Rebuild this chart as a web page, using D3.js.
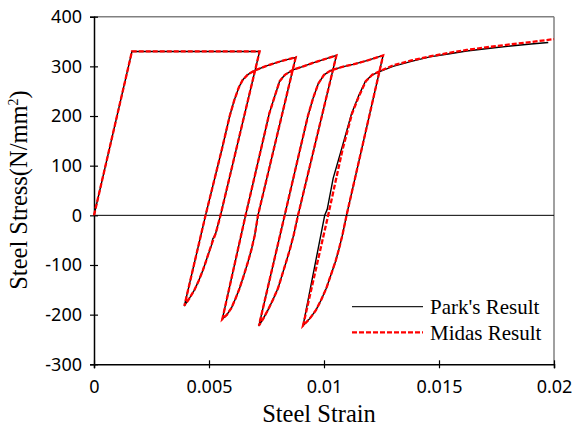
<!DOCTYPE html>
<html>
<head>
<meta charset="utf-8">
<script src="https://cdn.jsdelivr.net/npm/d3@7"></script>
<style>
  body { margin: 0; background: #fff; }
  .tick text { font-family: "Noto Sans", sans-serif; font-size: 18px; fill: #000; }
</style>
</head>
<body>
<div id="chart"></div>
<script>
// Park's result (black solid) - strain / stress pairs
const parkStrain = [0, 0.00165, 0.0072, 0.0055, 0.00528, 0.00516, 0.00511, 0.0049, 0.00474, 0.00455, 0.00437, 0.00415, 0.00393,
  0.00485, 0.00555, 0.0059, 0.0061, 0.0063, 0.00647, 0.0067, 0.007, 0.0075, 0.0081, 0.00877,
  0.00713, 0.00699, 0.00685, 0.0067, 0.00652, 0.00633, 0.00615, 0.00597, 0.00578, 0.00558,
  0.00659, 0.00725, 0.00762, 0.00786, 0.00807, 0.0083, 0.00865, 0.0091, 0.00952, 0.01, 0.01054,
  0.00887, 0.00868, 0.00852, 0.00836, 0.00818, 0.008, 0.00778, 0.00756, 0.00736, 0.00717,
  0.00829, 0.00895, 0.0093, 0.00952, 0.00975, 0.01, 0.0103, 0.0108, 0.01127, 0.0119, 0.01257,
  0.01098, 0.0108, 0.01065, 0.0105, 0.0103, 0.0101, 0.00988, 0.00965, 0.00938, 0.00909,
  0.01003, 0.01014, 0.0104, 0.01075, 0.0112, 0.0115, 0.0118, 0.0121, 0.0125, 0.013, 0.0138, 0.0146, 0.0154, 0.0162, 0.0175, 0.019, 0.01975];
const parkStress = [0, 330, 330, 0, -38, -48, -60, -88, -110, -132, -150, -167, -182,
  0, 131, 200, 232, 258, 273, 284, 292, 301, 310, 318,
  0, -40, -68, -93, -120, -147, -168, -187, -200, -209,
  0, 131, 205, 240, 270, 283, 293, 300, 307, 314, 322,
  0, -40, -68, -93, -120, -147, -170, -191, -208, -222,
  0, 131, 200, 235, 265, 283, 292, 299, 304, 312, 322,
  0, -40, -68, -93, -120, -147, -170, -191, -208, -222,
  0, 12, 75, 131, 205, 240, 270, 283, 291, 300, 310, 319, 325, 331, 338, 345, 348];

// Midas result (red dashed)
const midasStrain = [0, 0.00165, 0.0072, 0.0055, 0.0053, 0.0051, 0.0049, 0.00474, 0.00455, 0.00437, 0.00415, 0.00393,
  0.00485, 0.00555, 0.0059, 0.0061, 0.0063, 0.00647, 0.0067, 0.007, 0.0075, 0.0081, 0.00877,
  0.00713, 0.00699, 0.00685, 0.0067, 0.00652, 0.00633, 0.00615, 0.00597, 0.00578, 0.00558,
  0.00659, 0.00725, 0.00762, 0.00786, 0.00807, 0.0083, 0.00865, 0.0091, 0.00952, 0.01, 0.01054,
  0.00887, 0.00868, 0.00852, 0.00836, 0.00818, 0.008, 0.00778, 0.00756, 0.00736, 0.00717,
  0.00829, 0.00895, 0.0093, 0.00952, 0.00975, 0.01, 0.0103, 0.0108, 0.01127, 0.0119, 0.01257,
  0.01098, 0.0108, 0.01065, 0.0105, 0.0103, 0.0101, 0.00988, 0.00965, 0.00938, 0.00909,
  0.01018, 0.0108, 0.01122, 0.01152, 0.01182, 0.0121, 0.0125, 0.013, 0.0138, 0.0146, 0.0154, 0.0162, 0.0175, 0.019, 0.02];
const midasStress = [0, 330, 330, 0, -35, -60, -88, -110, -132, -150, -167, -182,
  0, 131, 200, 232, 258, 273, 284, 292, 301, 310, 318,
  0, -40, -68, -93, -120, -147, -168, -187, -200, -209,
  0, 131, 205, 240, 270, 283, 293, 300, 307, 314, 322,
  0, -40, -68, -93, -120, -147, -170, -191, -208, -222,
  0, 131, 200, 235, 265, 283, 292, 299, 304, 312, 322,
  0, -40, -68, -93, -120, -147, -170, -191, -208, -222,
  0, 131, 205, 240, 270, 283, 292, 302, 312, 320, 327, 333, 341, 349, 355];

const xTicks = [0, 0.005, 0.01, 0.015, 0.02];
const yTicks = [-300, -200, -100, 0, 100, 200, 300, 400];
const seriesNames = ["Park's Result", "Midas Result"];

const serif = "'Liberation Serif', 'DejaVu Serif', 'Times New Roman', serif";

const W = 576, H = 426;
const margin = { top: 16.7, right: 22, bottom: 61.7, left: 94 };
const width = W - margin.left - margin.right;
const height = H - margin.top - margin.bottom;

const svg = d3.select("#chart").append("svg")
    .attr("width", W)
    .attr("height", H);

const g = svg.append("g")
    .attr("transform", `translate(${margin.left}, ${margin.top})`);

const x = d3.scaleLinear().domain([0, 0.02]).range([0, width]);
const y = d3.scaleLinear().domain([-300, 400]).range([height, 0]);

// frame: top and right in grey
g.append("line").attr("x1", 0).attr("x2", width).attr("y1", 0).attr("y2", 0)
    .attr("stroke", "#808080").attr("stroke-width", 1.5);
g.append("line").attr("x1", width).attr("x2", width).attr("y1", 0).attr("y2", height)
    .attr("stroke", "#808080").attr("stroke-width", 1.5);

// zero line
g.append("line").attr("x1", 0).attr("x2", width).attr("y1", y(0)).attr("y2", y(0))
    .attr("stroke", "#000").attr("stroke-width", 1);

// axes
const xAxis = g.append("g")
    .attr("transform", `translate(0, ${height})`)
    .call(d3.axisBottom(x).tickValues(xTicks).tickSize(4).tickPadding(12)
        .tickFormat(d => String(+d.toFixed(3))));
xAxis.selectAll(".tick line").attr("y1", -4).attr("y2", 4).attr("stroke-width", 1.2);
xAxis.select(".domain").attr("stroke-width", 1.5);

const yAxis = g.append("g")
    .call(d3.axisLeft(y).tickValues(yTicks).tickSize(4).tickPadding(8)
        .tickFormat(d => String(d)));
yAxis.selectAll(".tick line").attr("x1", 4).attr("x2", -4).attr("stroke-width", 1.2);
yAxis.select(".domain").attr("stroke-width", 1.5);

// axis titles
svg.append("text")
    .attr("x", margin.left + width / 2 - 5)
    .attr("y", 421.5)
    .attr("text-anchor", "middle")
    .attr("font-family", serif)
    .attr("font-size", 24.5)
    .text("Steel Strain");

const yt = svg.append("text")
    .attr("transform", "translate(27, 190) rotate(-90)")
    .attr("text-anchor", "middle")
    .attr("font-family", serif)
    .attr("font-size", 24.5);
yt.append("tspan").text("Steel Stress(N/mm");
yt.append("tspan").attr("dy", -9).attr("font-size", 14).text("2");
yt.append("tspan").attr("dy", 9).text(")");

// lines
const line = d3.line()
    .x(d => x(d[0]))
    .y(d => y(d[1]));

const park = parkStrain.map((s, i) => [s, parkStress[i]]);
const midas = midasStrain.map((s, i) => [s, midasStress[i]]);

g.append("path")
    .datum(park)
    .attr("fill", "none")
    .attr("stroke", "#000")
    .attr("stroke-width", 1.4)
    .attr("stroke-linejoin", "round")
    .attr("d", line);

g.append("path")
    .datum(midas)
    .attr("fill", "none")
    .attr("stroke", "#ff0000")
    .attr("stroke-width", 2.3)
    .attr("stroke-dasharray", "5,2")
    .attr("d", line);

// legend
const legend = svg.append("g");
const legendY = [306.7, 332.3];
seriesNames.forEach((name, i) => {
    legend.append("line")
        .attr("x1", 352).attr("x2", 423)
        .attr("y1", legendY[i]).attr("y2", legendY[i])
        .attr("stroke", i === 0 ? "#222" : "#ff0000")
        .attr("stroke-width", i === 0 ? 1.2 : 2.3)
        .attr("stroke-dasharray", i === 0 ? null : "5,2");
    legend.append("text")
        .attr("x", 430)
        .attr("y", legendY[i] + 7.5)
        .attr("font-family", serif)
        .attr("font-size", 21)
        .text(name);
});
</script>
</body>
</html>
